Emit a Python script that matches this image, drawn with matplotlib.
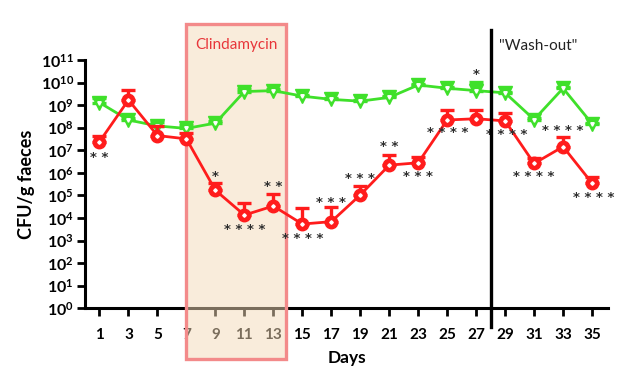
import matplotlib
matplotlib.use("Agg")
import matplotlib.pyplot as plt
import matplotlib.transforms as mtrans
from matplotlib.patches import Rectangle
from matplotlib.ticker import FixedLocator, FuncFormatter, NullLocator
import numpy as np

plt.rcParams['font.family'] = ['Lato', 'DejaVu Sans']
plt.rcParams['mathtext.fontset'] = 'custom'
plt.rcParams['mathtext.rm'] = 'Lato'
plt.rcParams['mathtext.bf'] = 'Lato:bold'

# ---- data ----
days = [1, 3, 5, 7, 9, 11, 13, 15, 17, 19, 21, 23, 25, 27, 29, 31, 33, 35]
green_mean = [1.3e9, 2.2e8, 1.2e8, 9.3e7, 1.6e8, 4.0e9, 4.4e9, 2.5e9, 1.8e9,
              1.5e9, 2.2e9, 7.8e9, 5.6e9, 4.4e9, 3.5e9, 2.3e8, 5.6e9, 1.5e8]
green_upper = [2.0e9, 2.8e8, 1.8e8, 1.3e8, 2.0e8, 5.2e9, 5.2e9, 2.8e9, 2.0e9,
               1.7e9, 2.5e9, 8.9e9, 6.6e9, 1.1e10, 4.0e9, 2.6e8, 6.6e9, 1.7e8]
red_mean = [2.4e7, 1.7e9, 4.5e7, 3.2e7, 1.7e5, 1.35e4, 3.4e4, 5.4e3, 6.9e3,
            1.05e5, 2.2e6, 2.8e6, 2.2e8, 2.5e8, 2.0e8, 2.6e6, 1.45e7, 3.5e5]
red_upper = [4.3e7, 4.7e9, 1.2e8, 5.6e7, 3.6e5, 4.5e4, 1.15e5, 2.7e4, 3.0e4,
             2.7e5, 6.2e6, 5.2e6, 5.8e8, 6.2e8, 4.7e8, 4.5e6, 3.8e7, 6.8e5]

star_days = [1, 9, 11, 13, 15, 17, 19, 21, 23, 25, 27, 29.1, 31, 33, 35.1]
star_values = [5.0e6, 7.2e5, 3.2e3, 2.5e5, 1.26e3, 5.1e4, 5.4e5, 1.45e7, 6.8e5,
               6.0e7, 2.2e10, 5.1e7, 6.8e5, 7.2e7, 7.9e4]
star_labels = ['**', '*', '****', '**', '****', '***', '***', '**', '***',
               '****', '*', '****', '****', '****', '****']

x_ticks = list(range(1, 36, 2))
y_exponents = list(range(0, 12))

clinda_start, clinda_end = 7, 13.9
washout_day = 28

# ---- figure ----
W, H = 633, 381
fig = plt.figure(figsize=(W / 100, H / 100), dpi=100)
left, right, bottom, top = 85, 608, 308.3, 60
ax = fig.add_axes([left / W, 1 - bottom / H, (right - left) / W, (bottom - top) / H])

ax.set_yscale('log')
ax.set_ylim(1, 1e11)
ax.set_xlim(0, 36.1)

green = '#3fe02a'
red = '#ff1c1c'

g_mean = np.array(green_mean)
g_err = np.array(green_upper) - g_mean
r_mean = np.array(red_mean)
r_err = np.array(red_upper) - r_mean

ax.errorbar(days, g_mean, yerr=[np.zeros_like(g_err), g_err], color=green,
            lw=2.0, marker='v', ms=10, mec=green, mfc=green, capsize=4.8,
            capthick=2.4, elinewidth=2.4, zorder=4)
ax.plot(days, g_mean, ls='none', marker='v', ms=2.5, mfc='white', mec='white', zorder=4.1)
ax.errorbar(days, r_mean, yerr=[np.zeros_like(r_err), r_err], color=red,
            lw=2.0, marker='o', ms=9, mec=red, mfc=red, capsize=4.8,
            capthick=2.4, elinewidth=2.4, zorder=5)
ax.plot(days, r_mean, ls='none', marker='D', ms=1.8, mfc='white', mec='white', zorder=5.1)

# stars
for d, v, s in zip(star_days, star_values, star_labels):
    ax.text(d, v, ' '.join(s), ha='center', va='center', fontsize=9.5, fontweight='bold',
            color='#2e2e2e', family='DejaVu Sans', zorder=6)

# clindamycin box
trans = mtrans.blended_transform_factory(ax.transData, ax.transAxes)
y0 = (bottom - 359) / (bottom - top)
y1 = (bottom - 24) / (bottom - top)
rect = Rectangle((clinda_start, y0), clinda_end - clinda_start, y1 - y0,
                 transform=trans, facecolor=(0.96, 0.86, 0.72, 0.5),
                 edgecolor='#f38a8a', lw=2.4, clip_on=False, zorder=3)
ax.add_patch(rect)
ax.text((clinda_start + clinda_end) / 2, (bottom - 45) / (bottom - top), 'Clindamycin',
        transform=trans, ha='center', va='center', color='#e8363a', fontsize=11, zorder=6)

# wash-out line
ax.axvline(washout_day, ymin=(bottom - 327) / (bottom - top), ymax=(bottom - 30) / (bottom - top),
           color='black', lw=2.4, clip_on=False, zorder=6)
ax.text(washout_day + 0.6, (bottom - 46) / (bottom - top), '"Wash-out"', transform=trans,
        ha='left', va='center', color='#222222', fontsize=11, zorder=6)

# axes styling
for sp in ['top', 'right']:
    ax.spines[sp].set_visible(False)
for sp in ['left', 'bottom']:
    ax.spines[sp].set_linewidth(2.2)
ax.xaxis.set_major_locator(FixedLocator(x_ticks))
ax.xaxis.set_minor_locator(NullLocator())
ax.yaxis.set_major_locator(FixedLocator([10.0 ** e for e in y_exponents]))
ax.yaxis.set_minor_locator(NullLocator())
ax.yaxis.set_major_formatter(FuncFormatter(lambda v, p: r'$\mathbf{10^{%d}}$' % round(np.log10(v))))
ax.tick_params(axis='both', direction='out', length=6, width=2, color='black')
ax.tick_params(axis='x', labelsize=11, pad=8)
ax.tick_params(axis='y', labelsize=11.5, pad=2)
for lab in ax.get_xticklabels():
    lab.set_fontweight('bold')

ax.set_xlabel('Days', fontsize=12.5, fontweight='bold', labelpad=6)
ax.set_ylabel('CFU/g faeces', fontsize=13, fontweight='bold', labelpad=4)

fig.savefig('out.png', dpi=100)
